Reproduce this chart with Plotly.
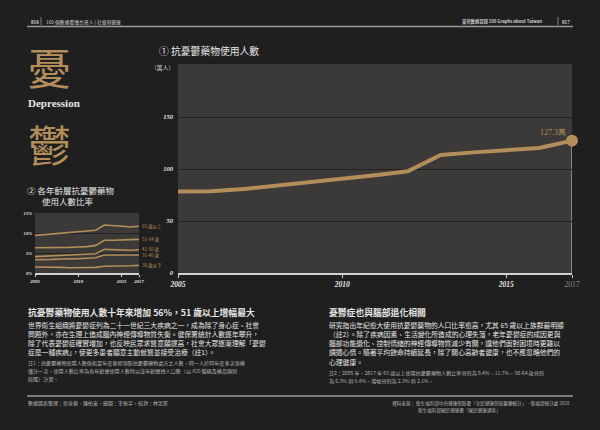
import plotly.graph_objects as go

# ---------------- data ----------------
years = list(range(2005, 2018))
users_10k = [78.5, 78.6, 80.8, 84.0, 86.9, 90.0, 93.9, 97.8, 113.5, 116.0, 118.3, 120.2, 127.3]

age_groups = ["65 歲以上", "51-64 歲", "41-50 歲", "31-40 歲", "30 歲以下"]
age_rates = [
    [9.4, 9.6, 9.8, 10.0, 10.1, 10.3, 10.5, 10.7, 12.0, 11.9, 11.7, 11.5, 11.7],
    [6.3, 6.3, 6.3, 6.4, 6.4, 6.5, 6.6, 6.9, 8.2, 8.2, 8.3, 8.3, 8.4],
    [4.1, 4.2, 4.3, 4.3, 4.4, 4.5, 4.6, 4.8, 5.9, 5.8, 5.7, 5.7, 5.8],
    [3.3, 3.3, 3.4, 3.5, 3.5, 3.6, 3.7, 3.8, 4.5, 4.5, 4.4, 4.4, 4.5],
    [1.5, 1.5, 1.4, 1.4, 1.3, 1.3, 1.3, 1.4, 1.7, 1.7, 1.8, 1.8, 1.9],
]

main_yticks = [0, 50, 100, 150]
main_xticks = [2005, 2010, 2015, 2017]
small_yticks = [0, 5, 10, 15]
small_yticklabels = ["0%", "5%", "10%", "15%"]

left_para = [
    "世界衛生組織將憂鬱症列為二十一世紀三大疾病之一，成為除了身心症、社會",
    "問題外，亦在生理上造成腦內神經傳導物質失衡。健保署統計人數逐年攀升，",
    "除了代表憂鬱症確實增加，也反映民眾求醫意願提高，社會大眾逐漸理解「憂鬱",
    "症是一種疾病」，使更多患者願意主動就醫並接受治療（註1）。",
]
left_note = [
    "註1：抗憂鬱藥物使用人數係指當年度曾經領取抗憂鬱藥物處方之人數，同一人於同年度多次領藥",
    "僅計一次。使用人數比率為各年齡層使用人數除以該年齡層總人口數（以 ICD 編碼及藥品類別",
    "篩選）計算。",
]
right_para = [
    "研究指出年紀愈大使用抗憂鬱藥物的人口比率愈高，尤其 65 歲以上族群最明顯",
    "（註2）。除了疾病因素、生活變化所造成的心理失落，老年憂鬱症的成因更與",
    "腦部功能退化、控制情緒的神經傳導物質減少有關，讓他們面對困境時更難以",
    "調適心情。隨著平均餘命持續延長，除了關心高齡者健康，也不應忽略他們的",
    "心理健康。",
]
right_note = [
    "註2：2005 年、2017 年 65 歲以上使用抗憂鬱藥物人數比率分別為 9.4%、11.7%，50-64 歲分別",
    "為 6.3% 與 8.4%，增幅分別為 2.3% 與 2.1%。",
]

W, H = 600, 430
BG = "#1f1f1f"
PLOT_BG = "#3b3a39"
GOLD = "#b38e5b"
WHITE = "#e6e6e6"
NOTE = "#b5b5b5"
CJK = "Noto Sans CJK TC"
SERIF = "Liberation Serif"


def px(x):
    return x / W


def py(y):
    return 1 - y / H


fig = go.Figure()

# main line
fig.add_trace(go.Scatter(
    x=years, y=users_10k, mode="lines", line=dict(color=GOLD, width=4),
    xaxis="x", yaxis="y", hoverinfo="skip", showlegend=False))
fig.add_trace(go.Scatter(
    x=[years[-1]], y=[users_10k[-1]], mode="markers",
    marker=dict(color=GOLD, size=12), cliponaxis=False,
    xaxis="x", yaxis="y", hoverinfo="skip", showlegend=False))

# small chart lines
for name, vals in zip(age_groups, age_rates):
    fig.add_trace(go.Scatter(
        x=years, y=vals, mode="lines", line=dict(color=GOLD, width=1.6),
        xaxis="x2", yaxis="y2", hoverinfo="skip", showlegend=False))

shapes = [
    dict(type="line", xref="x", yref="y", x0=years[-1], x1=years[-1], y0=0, y1=users_10k[-1],
         line=dict(color="#b8b8b8", width=1.2), layer="below"),
    dict(type="line", xref="paper", yref="paper", x0=px(27), x1=px(573), y0=py(26.5), y1=py(26.5),
         line=dict(color="#9a9a9a", width=1.5)),
    dict(type="line", xref="paper", yref="paper", x0=px(27), x1=px(573), y0=py(396), y1=py(396),
         line=dict(color="#9a9a9a", width=1.5)),
    dict(type="line", xref="paper", yref="paper", x0=px(41), x1=px(41), y0=py(17), y1=py(25),
         line=dict(color="#9a9a9a", width=0.8)),
    dict(type="line", xref="paper", yref="paper", x0=px(558), x1=px(558), y0=py(17), y1=py(25),
         line=dict(color="#9a9a9a", width=0.8)),
]

ann = []


def text(x, y, t, size, color=WHITE, family=CJK, xanchor="left", yanchor="middle"):
    ann.append(dict(xref="paper", yref="paper", x=px(x), y=py(y), text=t, showarrow=False,
                    font=dict(size=size, color=color, family=family),
                    xanchor=xanchor, yanchor=yanchor, align="left", borderpad=0))


# header
text(29.5, 21.5, "<b>816</b>", 5.2, color="#cfcfcf", family=SERIF)
text(45, 21.5, "100 個數據看懂台灣人 | 社會與健康", 4.8, color="#cfcfcf")
text(543, 21.5, "<b>臺灣數據百閱 100 Graphs about Taiwan</b>", 4.3, color="#cfcfcf", xanchor="right")
text(561, 21.5, "<b>817</b>", 5.2, color="#cfcfcf", family=SERIF)

# left big characters
text(49, 66, "憂", 43, color=GOLD, xanchor="center")
text(27, 103, "<b>Depression</b>", 11, color=WHITE, family=SERIF)
text(49, 143, "鬱", 43, color=GOLD, xanchor="center")

# small chart title
text(26, 189.5, "② 各年齡層抗憂鬱藥物", 8.5)
text(41, 200.5, "使用人數比率", 8.5)

# main chart title
text(158, 51.5, "① 抗憂鬱藥物使用人數", 9.8)
text(150, 68, "（萬人）", 5.8, color="#cfcfcf")

# last value label
ann.append(dict(xref="x", yref="y", x=years[-1], y=users_10k[-1], text="127.3萬", showarrow=False,
                font=dict(size=8, color=GOLD, family=SERIF), xanchor="right", yanchor="bottom",
                xshift=-5, yshift=3, borderpad=0))

# small chart line labels
for name, vals in zip(age_groups, age_rates):
    ann.append(dict(xref="x2", yref="y2", x=years[-1], y=vals[-1], text=name, showarrow=False,
                    font=dict(size=4.5, color=GOLD, family=CJK), xanchor="left", yanchor="middle",
                    xshift=2, borderpad=0))

# left text block
text(27, 312, "<b>抗憂鬱藥物使用人數十年來增加 56%，51 歲以上增幅最大</b>", 8.8)
for i, line in enumerate(left_para):
    text(27, 324.5 + i * 9.3, line, 6.8)
for i, line in enumerate(left_note):
    text(27, 363 + i * 8, line, 5.1, color=NOTE)

# right text block
text(328, 312, "<b>憂鬱症也與腦部退化相關</b>", 8.8)
for i, line in enumerate(right_para):
    text(328, 324.5 + i * 9.3, line, 6.8)
for i, line in enumerate(right_note):
    text(328, 373 + i * 7.8, line, 5.1, color=NOTE)

# footer
text(27, 403, "數據圖表整理：吳佳蓉、陳柏安，繪圖：王振宇，校對：林昱辰", 5, color=NOTE)
text(391, 403, "資料來源：", 4.6, color=NOTE)
text(415, 403, "衛生福利部中央健康保險署「全民健康保險醫療統計」、衛福部統計處 2018", 4.6, color=NOTE)
text(417, 410, "衛生福利部國民健康署「國民健康調查」", 4.6, color=NOTE)

fig.update_layout(
    width=W, height=H, margin=dict(l=0, r=0, t=0, b=0, pad=0, autoexpand=False),
    paper_bgcolor=BG, plot_bgcolor=PLOT_BG,
    showlegend=False, shapes=shapes, annotations=ann,
    xaxis=dict(domain=[px(178), px(572)], range=[2005, 2017], tickvals=main_xticks,
               ticktext=["<b><i>2005</i></b>", "<b><i>2010</i></b>", "<b><i>2015</i></b>",
                         "<i><span style='color:#8a8a8a'>2017</span></i>"],
               tickfont=dict(family=SERIF, size=7.5, color=WHITE), automargin=False,
               showgrid=False, zeroline=False, showline=True, linecolor="#d0d0d0", linewidth=2,
               ticks="outside", ticklen=3, tickcolor="#d0d0d0", tickwidth=1.2, anchor="y"),
    yaxis=dict(domain=[py(273), py(64)], range=[0, 201], tickvals=main_yticks,
               ticktext=[f"<b><i>{v}</i></b>" for v in main_yticks],
               tickfont=dict(family=SERIF, size=6.5, color=WHITE), automargin=False,
               showgrid=True, gridcolor="#232323", gridwidth=1.4, zeroline=False,
               showline=False, ticks="", ticklabelstandoff=4, anchor="x"),
    xaxis2=dict(domain=[px(35), px(139)], range=[2005, 2017], tickvals=main_xticks,
                ticktext=[f"<b><i>{v}</i></b>" for v in main_xticks],
                tickfont=dict(family=SERIF, size=4.8, color=WHITE), automargin=False,
                showgrid=False, zeroline=False, showline=True, linecolor="#d0d0d0", linewidth=1.5,
                ticks="outside", ticklen=2, tickcolor="#d0d0d0", tickwidth=1, anchor="y2"),
    yaxis2=dict(domain=[py(273), py(213)], range=[0, 15], tickvals=small_yticks,
                ticktext=[f"<b><i>{t}</i></b>" for t in small_yticklabels],
                tickfont=dict(family=SERIF, size=4.6, color=WHITE), automargin=False,
                showgrid=True, gridcolor="#232323", gridwidth=1, zeroline=False,
                showline=False, ticks="", ticklabelstandoff=2, anchor="x2"),
)

fig.write_html("out.html")
